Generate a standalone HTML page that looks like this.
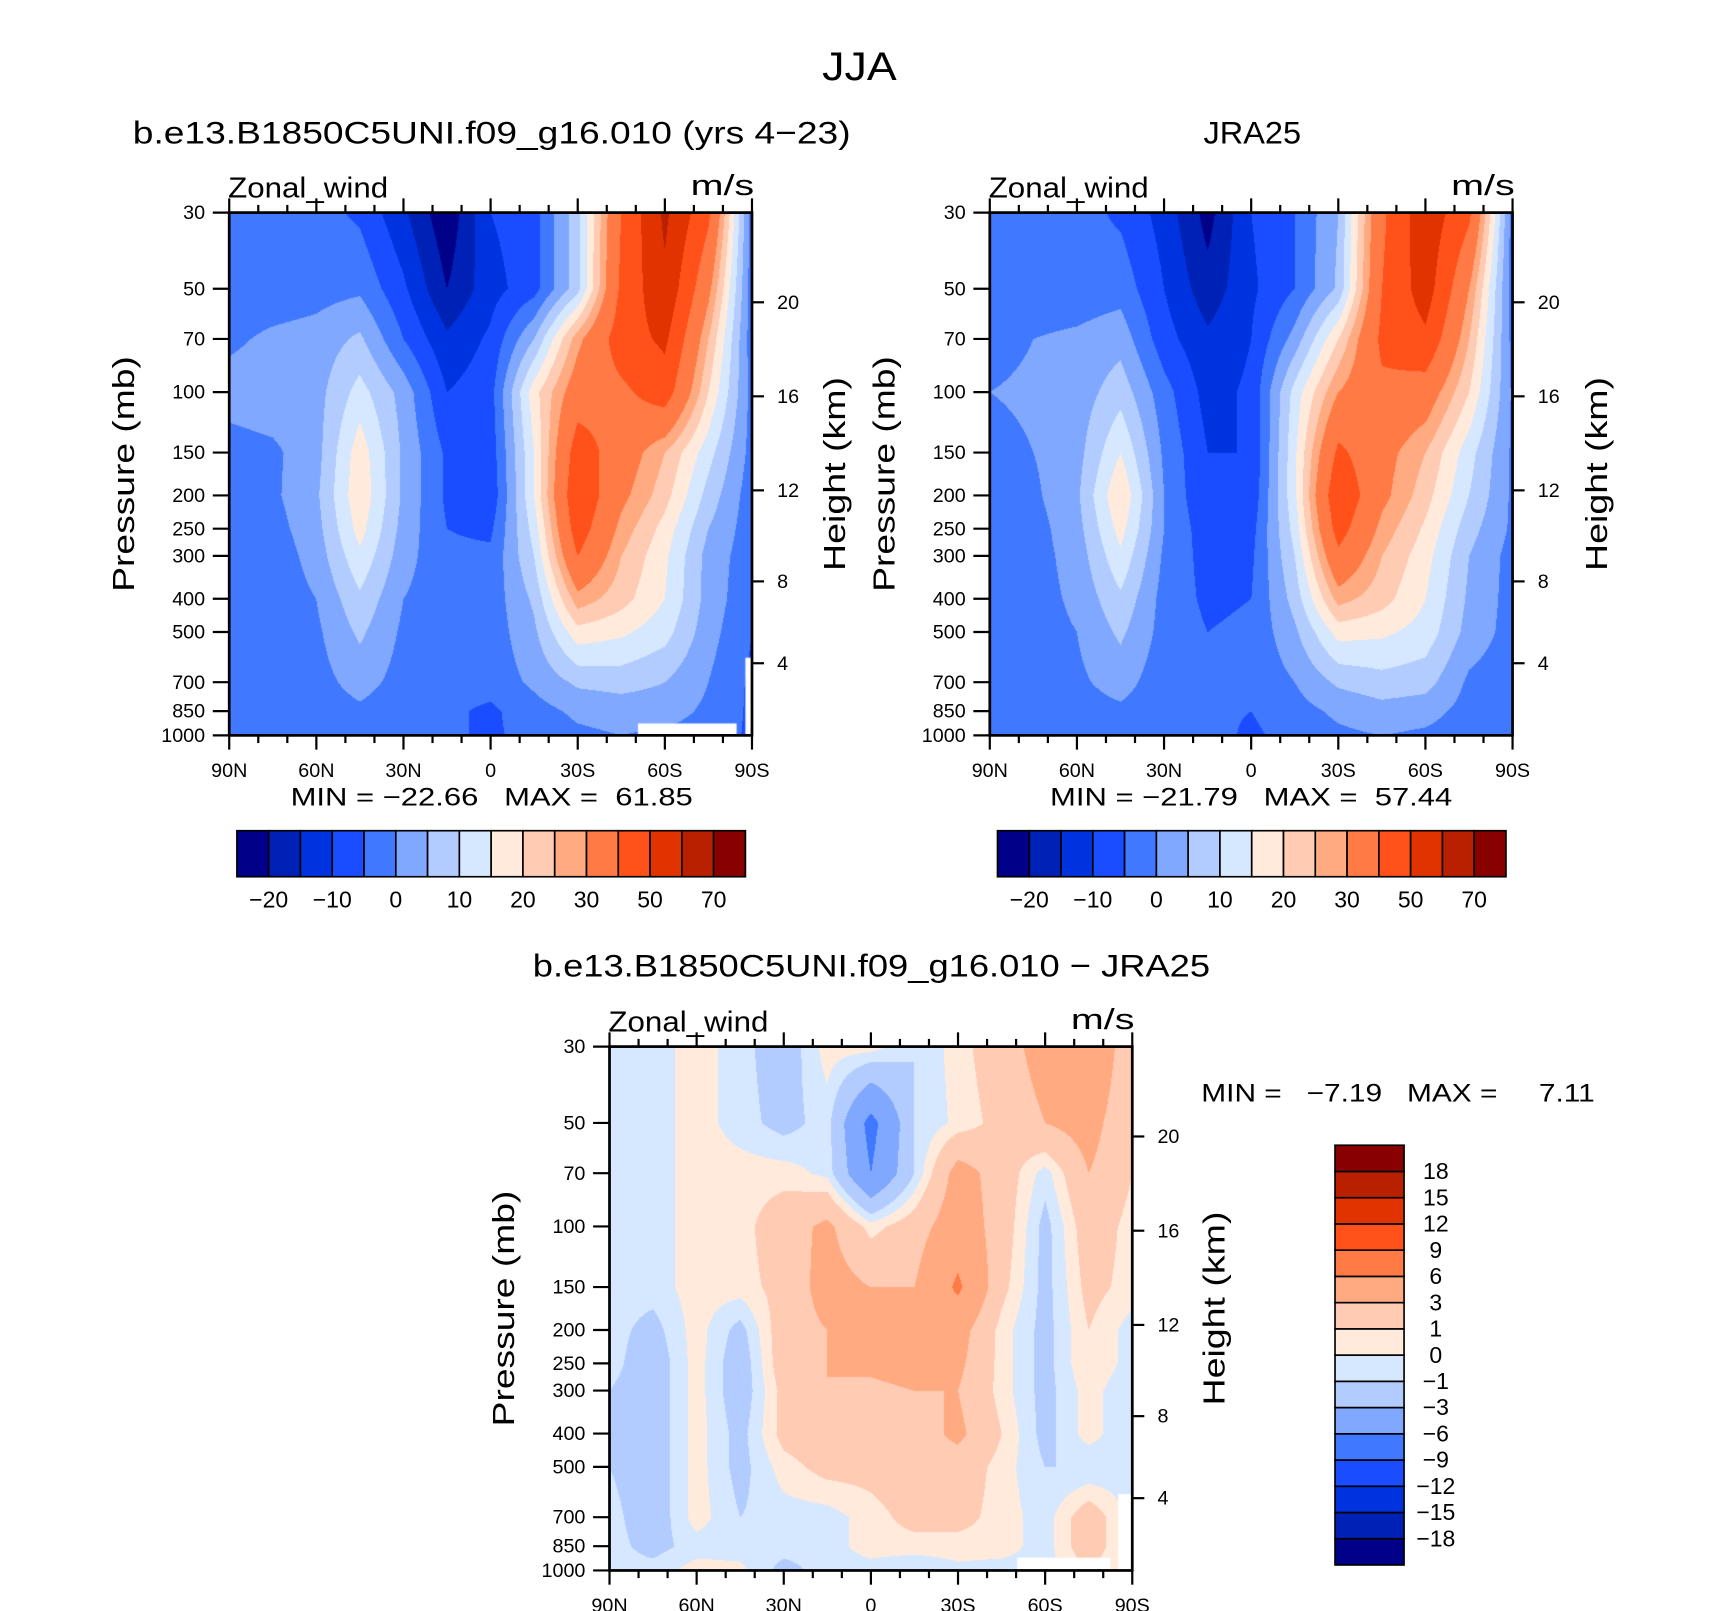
<!DOCTYPE html>
<html><head><meta charset="utf-8"><style>
html,body{margin:0;padding:0;background:#fff;}
#wrap{position:relative;width:1710px;height:1611px;overflow:hidden;}
canvas,svg{position:absolute;left:0;top:0;}
text{font-family:"Liberation Sans",sans-serif;fill:#000;}
</style></head><body>
<div id="wrap">
<canvas id="cv" width="1710" height="1611"></canvas>
<svg id="sv" width="1710" height="1611" viewBox="0 0 1560 1470">
<text x="750" y="73" font-size="36" textLength="68" lengthAdjust="spacingAndGlyphs">JJA</text>
<text x="121" y="131" font-size="29" textLength="655" lengthAdjust="spacingAndGlyphs">b.e13.B1850C5UNI.f09_g16.010 (yrs 4−23)</text>
<text x="1098" y="131" font-size="29" textLength="89" lengthAdjust="spacingAndGlyphs">JRA25</text>
<text x="486" y="891" font-size="29" textLength="618" lengthAdjust="spacingAndGlyphs">b.e13.B1850C5UNI.f09_g16.010 − JRA25</text>
<text x="265" y="735" font-size="23" textLength="367" lengthAdjust="spacingAndGlyphs" xml:space="preserve">MIN = −22.66   MAX =  61.85</text>
<text x="958" y="735" font-size="23" textLength="367" lengthAdjust="spacingAndGlyphs" xml:space="preserve">MIN = −21.79   MAX =  57.44</text>
<text x="1096" y="1005" font-size="23" textLength="359" lengthAdjust="spacingAndGlyphs" xml:space="preserve">MIN =   −7.19   MAX =     7.11</text>
</svg>
</div>
<script>
// ---- data ----
const levels=[30,50,70,100,150,200,250,300,400,500,700,850,1000];
const latLabels=['90N','60N','30N','0','30S','60S','90S'];
const heightTicks=[4,8,12,16,20];
const windLevels=[-20,-15,-10,-5,0,5,10,15,20,25,30,40,50,60,70];
const windTickLabels=['−20','−10','0','10','20','30','50','70'];
const diffLevels=[-18,-15,-12,-9,-6,-3,-1,0,1,3,6,9,12,15,18];
const diffTickLabels=['−18','−15','−12','−9','−6','−3','−1','0','1','3','6','9','12','15','18'];
const palette=['#000088','#0021b5','#0033e0','#1a4dff','#4079ff','#80a8ff','#b3ccff','#d6e8ff','#ffeadb','#ffcbb3','#ffaa80','#ff7a45','#ff5119','#e03300','#b82000','#890000'];
// rows = pressure levels (30..1000), cols = 90N..90S every 15 deg
const modelRows=[
[-2,-2,-3,-6,-14,-24,-10,-7,8,40,62,42,-3],
[-3,-3,-2,-1,-9,-20,-12,-7,8,42,58,32,-3],
[-1,1,2,6,-5,-14,-9,5,28,45,52,25,-3],
[2,3,3,12,3,-10,-7,18,35,38,45,20,-2],
[-2,-1,3,18,4,-6,-8,15,45,35,25,12,-2],
[-3,-1,4,19,4,-6,-9,15,48,32,22,8,-3],
[-3,-2,3,17,3,-5,-6,12,45,28,18,5,-3],
[-3,-3,2,14,2,-4,-4,10,40,25,16,3,-3],
[-3,-3,0,9,0,-3,-3,6,28,22,15,3,-4],
[-3,-3,-1,6,-1,-3,-3,4,18,16,12,2,-5],
[-3,-3,-2,2,-2,-3,-3,1,6,7,5,0,-6],
[-3,-3,-3,-1,-3,-4,-6,-2,1,2,2,-1,-6],
[-4,-3,-3,-2,-3,-4,-6,-3,-1,0,-1,-2,-6]];
const jraRows=[
[-2,-2,-3,-6,-12,-22,-10,-5,5,38,57,42,-3],
[-3,-3,-3,-2,-10,-18,-11,-5,6,40,55,30,-3],
[-2,0,1,3,-8,-14,-10,2,20,42,48,25,-2],
[0,1,2,8,-3,-12,-9,12,30,38,35,20,-1],
[-2,0,3,15,-1,-10,-10,14,42,33,25,12,-1],
[-3,-1,4,20,0,-10,-9,14,48,32,22,10,-1],
[-3,-2,3,17,0,-8,-7,12,44,28,19,7,-1],
[-3,-2,2,14,-1,-7,-6,10,38,25,17,5,-2],
[-3,-2,1,9,-2,-6,-5,7,27,22,15,4,-2],
[-3,-2,0,6,-2,-5,-4,4,17,16,13,3,-2],
[-3,-3,-1,2,-3,-4,-4,0,6,8,7,-1,-3],
[-3,-3,-2,-1,-3,-4,-5,-2,1,3,2,-2,-3],
[-3,-3,-3,-2,-3,-3,-6,-3,-1,0,-1,-3,-3]];
const diffRows=[
[-0.5,-0.5,0.5,-0.5,-2,0.5,0.5,-1,0.5,2,4,6,1],
[-0.5,-0.5,0.5,-0.5,-1.5,-0.5,-7,-1,0.3,1.5,3,4,1],
[-0.5,-0.5,0.5,0.5,0.5,-0.3,-6,-1,4,2,-0.5,3,1],
[-0.5,-0.5,0.5,0.5,2,3.5,0.5,2,4.5,2,-1.5,2,0.5],
[-0.5,-0.5,0.5,0.5,1.5,4,3,3,6.5,1.5,-1.5,1.5,0.5],
[-0.5,-1.5,0.5,-1.5,2,3,4,4,4,0.5,-1.5,1,-0.5],
[-0.5,-2,0.5,-2,2,3,3.5,4,3.5,0.5,-1.5,1,-0.5],
[-1,-2,0.5,-2,1.5,3,2.5,3,3,0.5,-1.5,0.5,-1],
[-1,-2,0.5,-1.5,1.5,2,2,2,3.5,1,-1.5,0.5,-1],
[-1,-2,0.5,-1.5,0.5,1.5,1.5,2,2,0.5,-1,-1,-0.5],
[-0.5,-2,0.5,-1,-0.5,-0.5,0.5,1.5,1.5,0.5,-0.5,2,-0.5],
[-0.5,-1.5,-0.5,-0.5,-0.5,-0.5,0.5,0.5,0.5,0.5,-0.5,2,-0.5],
[-0.5,-0.5,0.5,0.3,-1.5,-0.5,-0.5,-1,-0.3,-0.5,-0.5,1,-0.5]];

// ---- layout (in 1560x1470 view units) ----
const S=1710/1560;
const plots=[
 {name:'model',x0:209,x1:686,y0:194,y1:671,rows:modelRows,lv:windLevels,hx:762},
 {name:'obs',x0:903,x1:1380,y0:194,y1:671,rows:jraRows,lv:windLevels,hx:1457},
 {name:'diff',x0:556,x1:1033,y0:955,y1:1433,rows:diffRows,lv:diffLevels,hx:1108}];
const LR=Math.log(1000/30);
function yOfP(pl,p){return pl.y0+(pl.y1-pl.y0)*Math.log(p/30)/LR;}
function pOfZ(z){const m=z*1000;if(m<=11000)return 1013.25*Math.pow(1-2.25577e-5*m,5.25588);return 226.32*Math.exp(-0.000157688*(m-11000));}
function classify(v,lv){let i=0;while(i<lv.length&&v>=lv[i])i++;return i;}
function hexRGB(h){return [parseInt(h.substr(1,2),16),parseInt(h.substr(3,2),16),parseInt(h.substr(5,2),16)];}
const palRGB=palette.map(hexRGB);
const logLv=levels.map(p=>Math.log(p));

// ---- fills ----
const cv=document.getElementById('cv');const ctx=cv.getContext('2d');
ctx.fillStyle='#fff';ctx.fillRect(0,0,1710,1611);
plots.forEach(pl=>{
 const X0=Math.round(pl.x0*S),X1=Math.round(pl.x1*S),Y0=Math.round(pl.y0*S),Y1=Math.round(pl.y1*S);
 const w=X1-X0,h=Y1-Y0;const img=ctx.createImageData(w,h);
 const nc=pl.rows[0].length-1;
 for(let j=0;j<h;j++){
  const v=(Y0+j+0.5)/S;const f=(v-pl.y0)/(pl.y1-pl.y0);
  const lp=Math.log(30)+f*LR;
  let r=0;while(r<levels.length-2&&lp>logLv[r+1])r++;
  let tr=(lp-logLv[r])/(logLv[r+1]-logLv[r]);tr=Math.max(0,Math.min(1,tr));
  const ra=pl.rows[r],rb=pl.rows[r+1];
  for(let i=0;i<w;i++){
   const u=(X0+i+0.5)/S;let c=(u-pl.x0)/(pl.x1-pl.x0)*nc;c=Math.max(0,Math.min(nc-1e-6,c));
   const ci=Math.floor(c),tc=c-ci;
   const a=ra[ci]*(1-tc)+ra[ci+1]*tc,b=rb[ci]*(1-tc)+rb[ci+1]*tc;
   const val=a*(1-tr)+b*tr;
   const col=palRGB[classify(val,pl.lv)];
   const k=(j*w+i)*4;img.data[k]=col[0];img.data[k+1]=col[1];img.data[k+2]=col[2];img.data[k+3]=255;
  }
 }
 ctx.putImageData(img,X0,Y0);
});
// missing-data (topography) masks
ctx.fillStyle='#fff';
[[582,660,672,671],[680,600,686,671],[928,1421,1013,1433],[1020,1363,1033,1433]].forEach(m=>{
 ctx.fillRect(m[0]*S,m[1]*S,(m[2]-m[0])*S,(m[3]-m[1])*S);
});

// ---- axes ----
const NS='http://www.w3.org/2000/svg';const sv=document.getElementById('sv');
function el(tag,attrs,parent){const e=document.createElementNS(NS,tag);for(const k in attrs)e.setAttribute(k,attrs[k]);(parent||sv).appendChild(e);return e;}
function line(g,x1,y1,x2,y2,w){return el('line',{x1:x1,y1:y1,x2:x2,y2:y2,stroke:'#000','stroke-width':w||2},g);}
plots.forEach(pl=>{
 const g=el('g',{});
 
 
 const fr=el('rect',{x:pl.x0,y:pl.y0,width:pl.x1-pl.x0,height:pl.y1-pl.y0,fill:'none',stroke:'#000','stroke-width':2.5},g);
 
 
 levels.forEach(p=>{
  const y=yOfP(pl,p);line(g,pl.x0-15,y,pl.x0,y);
  const t=el('text',{x:pl.x0-22,y:y+6,'font-size':18,'text-anchor':'end'},g);t.textContent=p;
  
  
 });
 for(let d=0;d<=180;d+=10){
  const x=pl.x0+(pl.x1-pl.x0)*d/180;const maj=d%30===0;
  line(g,x,pl.y1,x,pl.y1+(maj?13:7));line(g,x,pl.y0,x,pl.y0-(maj?13:7));
 }
 latLabels.forEach((lb,i)=>{
  const x=pl.x0+(pl.x1-pl.x0)*i/6;
  const t=el('text',{x:x,y:pl.y1+38,'font-size':18,'text-anchor':'middle'},g);t.textContent=lb;
  
  
 });
 heightTicks.forEach(z=>{
  const y=yOfP(pl,pOfZ(z));line(g,pl.x1,y,pl.x1+11,y);
  const t=el('text',{x:pl.x1+23,y:y+6,'font-size':18},g);t.textContent=z;
  
  
 });
 const zw=el('text',{x:pl.x0-1,y:pl.y0-14,'font-size':26,textLength:146,lengthAdjust:'spacingAndGlyphs'},g);zw.textContent='Zonal_wind';
 
 
 const un=el('text',{x:pl.x1-56,y:pl.y0-16,'font-size':26,textLength:58,lengthAdjust:'spacingAndGlyphs'},g);un.textContent='m/s';
 
 
 const cy=(pl.y0+pl.y1)/2;
 const ya=el('text',{x:pl.x0-87,y:cy,'font-size':28,'text-anchor':'middle',textLength:215,lengthAdjust:'spacingAndGlyphs',transform:'rotate(-90 '+(pl.x0-87)+' '+cy+')'},g);ya.textContent='Pressure (mb)';
 
 
 const ha=el('text',{x:pl.hx+9,y:cy,'font-size':28,'text-anchor':'middle',textLength:177,lengthAdjust:'spacingAndGlyphs',transform:'rotate(-90 '+(pl.hx+9)+' '+cy+')'},g);ha.textContent='Height (km)';
 
 
});

// ---- horizontal colorbars ----
[[216,'model'],[910,'obs']].forEach(cb=>{
 const x0=cb[0],y0=758,bw=29.0,bh=42;
 const g=el('g',{});
 
 
 palette.forEach((c,i)=>{
  const r=el('rect',{x:x0+i*bw,y:y0,width:bw,height:bh,fill:c,stroke:'#000','stroke-width':1.5},g);
  
  
 });
 windTickLabels.forEach((lb,k)=>{
  const t=el('text',{x:x0+(2*k+1)*bw,y:y0+bh+28,'font-size':21,'text-anchor':'middle'},g);t.textContent=lb;
  
  
 });
});
// ---- vertical colorbar ----
(function(){
 const x0=1218,y0=1045,bw=63,bh=383/16;
 const g=el('g',{});
 
 
 palette.forEach((c,i)=>{
  const r=el('rect',{x:x0,y:y0+(15-i)*bh,width:bw,height:bh,fill:c,stroke:'#000','stroke-width':1.5},g);
  
  
 });
 diffTickLabels.forEach((lb,i)=>{
  const t=el('text',{x:1310,y:y0+(15-i)*bh+7,'font-size':21,'text-anchor':'middle'},g);t.textContent=lb;
  
  
 });
})();
</script>
</body></html>
